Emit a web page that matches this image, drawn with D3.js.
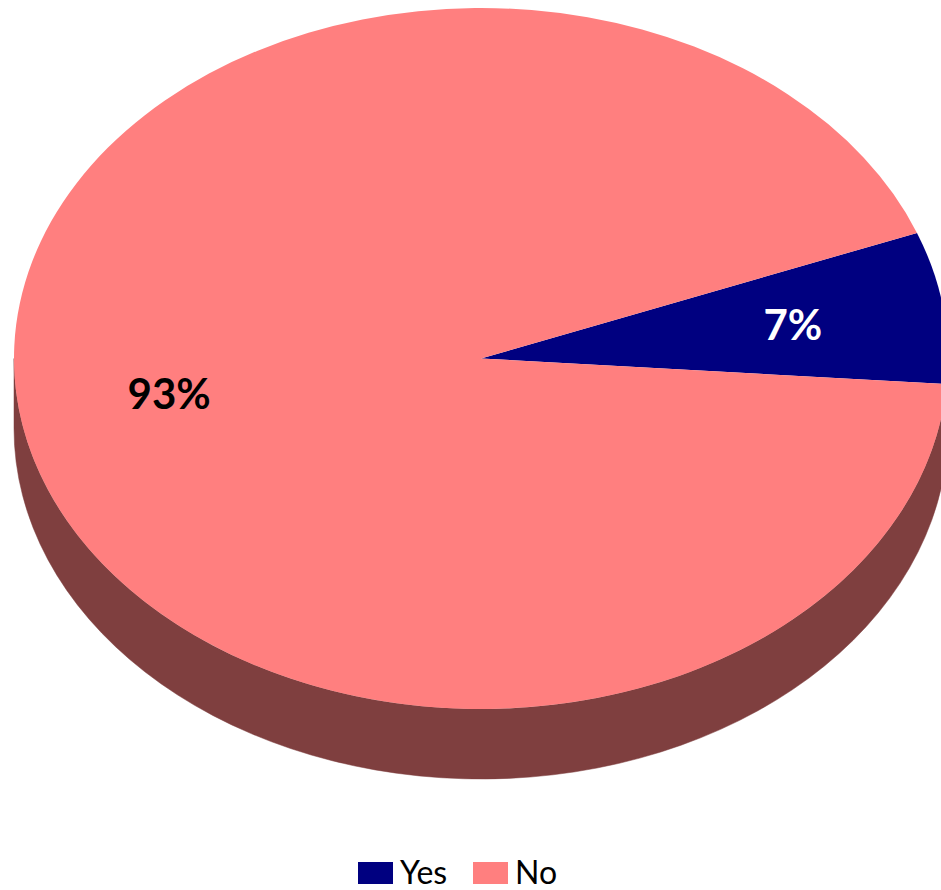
<!DOCTYPE html>
<html><head><meta charset="utf-8">
<script src="https://cdn.jsdelivr.net/npm/d3@7"></script>
<style>html,body{margin:0;padding:0;background:#fff;overflow:hidden}</style>
</head><body>
<svg id="chart" width="941" height="890"></svg>
<script>
const categories = ["Yes", "No"];
const values = [7, 93];
const labels = ["7%", "93%"];
const colors = ["#000080", "#FF7F7F"];
const sideColors = ["#000040", "#7F3F3F"];
const labelColors = ["#FFFFFF", "#000000"];

const W = 941, H = 890;
const cx = 481, cy = 358.5, rx = 467, ry = 350.5, depth = 70;
const startDeg = 69; // d3 pie angle (0 = 12 o'clock, clockwise)

const svg = d3.select("#chart");
const pie = d3.pie().sort(null).value(d => d)
  .startAngle(startDeg * Math.PI / 180)
  .endAngle(startDeg * Math.PI / 180 + 2 * Math.PI);
const arcs = pie(values);

const toScreen = a => a - Math.PI / 2;
const pt = (t, dy = 0) => [cx + rx * Math.cos(t), cy + ry * Math.sin(t) + dy];

// side walls (front half)
const gSide = svg.append("g");
arcs.forEach((d, i) => {
  let t0 = toScreen(d.startAngle), t1 = toScreen(d.endAngle);
  [-2 * Math.PI, 0, 2 * Math.PI].forEach(off => {
    const a = Math.max(t0, off), b = Math.min(t1, off + Math.PI);
    if (b > a) {
      const p0 = pt(a), p1 = pt(b), q1 = pt(b, depth), q0 = pt(a, depth);
      const path = `M${p0[0]},${p0[1]} A${rx},${ry} 0 0 1 ${p1[0]},${p1[1]} L${q1[0]},${q1[1]} A${rx},${ry} 0 0 0 ${q0[0]},${q0[1]} Z`;
      gSide.append("path").attr("d", path).attr("fill", sideColors[i]).attr("stroke", sideColors[i]).attr("stroke-width", 0.5);
    }
  });
});

// top faces
const gTop = svg.append("g");
arcs.forEach((d, i) => {
  const t0 = toScreen(d.startAngle), t1 = toScreen(d.endAngle);
  const p0 = pt(t0), p1 = pt(t1);
  const large = (t1 - t0) > Math.PI ? 1 : 0;
  const path = `M${cx},${cy} L${p0[0]},${p0[1]} A${rx},${ry} 0 ${large} 1 ${p1[0]},${p1[1]} Z`;
  gTop.append("path").attr("d", path).attr("fill", colors[i]);
});

// labels
const r = 0.675;
arcs.forEach((d, i) => {
  const m = toScreen((d.startAngle + d.endAngle) / 2);
  svg.append("text")
    .attr("x", cx + r * rx * Math.cos(m))
    .attr("y", cy + r * ry * Math.sin(m))
    .attr("text-anchor", "middle")
    .attr("dominant-baseline", "central")
    .attr("font-family", "Lato, 'Liberation Sans', sans-serif")
    .attr("font-weight", "bold")
    .attr("font-size", 42)
    .attr("fill", labelColors[i])
    .text(labels[i]);
});

// legend
const leg = svg.append("g");
const legX = [358, 473];
categories.forEach((c, i) => {
  leg.append("rect").attr("x", legX[i]).attr("y", 862).attr("width", 35).attr("height", 22).attr("fill", colors[i]);
  leg.append("text").attr("x", legX[i] + 42).attr("y", 884)
    .attr("font-family", "Lato, 'Liberation Sans', sans-serif")
    .attr("font-size", 32).attr("fill", "#000").text(c);
});
</script>
</body></html>
